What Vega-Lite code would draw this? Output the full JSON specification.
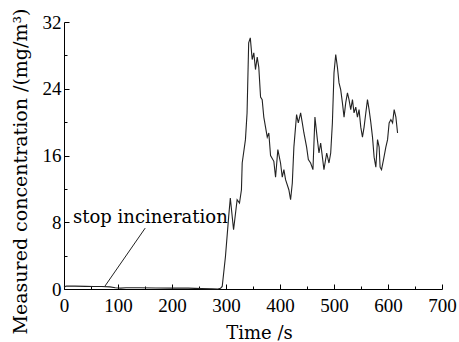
{
  "$schema": "https://vega.github.io/schema/vega-lite/v6.json",
  "width": 378,
  "height": 267,
  "autosize": {"type": "none"},
  "padding": {"left": 64, "top": 22, "right": 17, "bottom": 53},
  "background": "white",
  "config": {
    "view": {"stroke": null},
    "axis": {
      "domainColor": "black",
      "domainWidth": 1,
      "tickColor": "black",
      "tickWidth": 1,
      "labelColor": "black",
      "labelFont": "Liberation Serif",
      "labelFontSize": 19,
      "titleFont": "DejaVu Serif",
      "titleFontWeight": "normal",
      "titleColor": "black",
      "grid": false
    }
  },
  "datasets": {
    "series": [
      {"t": 0, "v": 0.2}, {"t": 4, "v": 0.35}, {"t": 20, "v": 0.35}, {"t": 40, "v": 0.32},
      {"t": 55, "v": 0.3}, {"t": 70, "v": 0.3}, {"t": 85, "v": 0.25}, {"t": 95, "v": 0.15},
      {"t": 105, "v": 0.1}, {"t": 115, "v": 0.15}, {"t": 140, "v": 0.15}, {"t": 170, "v": 0.12},
      {"t": 200, "v": 0.1}, {"t": 230, "v": 0.1}, {"t": 255, "v": 0.05}, {"t": 275, "v": 0.02},
      {"t": 285, "v": 0.0}, {"t": 290, "v": 0.1}, {"t": 293, "v": 0.3}, {"t": 299, "v": 3.9},
      {"t": 305, "v": 8.7}, {"t": 308, "v": 10.9}, {"t": 314, "v": 7.1}, {"t": 320.6, "v": 10.7},
      {"t": 325, "v": 10.3}, {"t": 328.6, "v": 11.9}, {"t": 330, "v": 15.1}, {"t": 336, "v": 17.9},
      {"t": 339, "v": 21.1}, {"t": 342, "v": 29.5}, {"t": 345, "v": 30.1}, {"t": 348.5, "v": 27.5},
      {"t": 351.5, "v": 28.3}, {"t": 354.6, "v": 26.3}, {"t": 357.8, "v": 27.8}, {"t": 360.7, "v": 26.6},
      {"t": 364, "v": 23}, {"t": 367, "v": 22.7}, {"t": 370, "v": 20.6}, {"t": 376.4, "v": 18.2},
      {"t": 379.3, "v": 18.7}, {"t": 382.5, "v": 16}, {"t": 388.6, "v": 15.3}, {"t": 391.8, "v": 13.4},
      {"t": 396, "v": 16.7}, {"t": 401, "v": 15.1}, {"t": 404.2, "v": 13.4}, {"t": 407.2, "v": 14.3},
      {"t": 410.3, "v": 13.1}, {"t": 416.4, "v": 11.9}, {"t": 419.6, "v": 10.7}, {"t": 422.8, "v": 12.7},
      {"t": 425.7, "v": 17}, {"t": 430.7, "v": 20.9}, {"t": 433.9, "v": 19.9}, {"t": 438.2, "v": 21.1},
      {"t": 441.3, "v": 19.9}, {"t": 444.3, "v": 18.7}, {"t": 449.3, "v": 17}, {"t": 452.5, "v": 15.5},
      {"t": 456.7, "v": 15.1}, {"t": 461, "v": 14.3}, {"t": 464.7, "v": 20.6}, {"t": 469.2, "v": 17.9},
      {"t": 472.2, "v": 16.3}, {"t": 475.3, "v": 17.5}, {"t": 481.4, "v": 14.3}, {"t": 486.5, "v": 16.3},
      {"t": 490.7, "v": 15.1}, {"t": 493.9, "v": 16.3}, {"t": 497, "v": 19.9}, {"t": 500, "v": 25.9},
      {"t": 503.2, "v": 28.1}, {"t": 506.3, "v": 26.6}, {"t": 509.3, "v": 24.7}, {"t": 512.4, "v": 23.9},
      {"t": 515.6, "v": 22.3}, {"t": 518.6, "v": 20.6}, {"t": 521.7, "v": 22.3}, {"t": 524.9, "v": 23.5},
      {"t": 527.8, "v": 22.7}, {"t": 531, "v": 21.5}, {"t": 534.2, "v": 22.7}, {"t": 537.1, "v": 21.1},
      {"t": 540.3, "v": 21.8}, {"t": 543.4, "v": 20.6}, {"t": 546.4, "v": 21.5}, {"t": 549.6, "v": 19.4},
      {"t": 552.7, "v": 18.2}, {"t": 555.7, "v": 19.4}, {"t": 558.9, "v": 21.1}, {"t": 562, "v": 22.7},
      {"t": 565, "v": 21.5}, {"t": 568.1, "v": 20}, {"t": 571.3, "v": 18.2}, {"t": 574.3, "v": 15.8},
      {"t": 577.5, "v": 14.6}, {"t": 580.6, "v": 17.9}, {"t": 583.6, "v": 17}, {"t": 585.4, "v": 14.6},
      {"t": 588, "v": 14.3}, {"t": 591.7, "v": 15.5}, {"t": 596, "v": 17}, {"t": 599.2, "v": 17.9},
      {"t": 602.1, "v": 19.9}, {"t": 605.3, "v": 20.3}, {"t": 608.5, "v": 19.9}, {"t": 611.4, "v": 21.5},
      {"t": 614.6, "v": 20.6}, {"t": 617.7, "v": 18.7}
    ],
    "note": [
      {"label": "stop incineration", "t": 16.7, "v": 7.9, "t1": 76, "v1": 0.36, "t2": 150.4, "v2": 7.3}
    ]
  },
  "resolve": {"axis": {"x": "independent", "y": "independent"}},
  "layer": [
    {
      "data": {"name": "series"},
      "mark": {"type": "line", "color": "#222222", "strokeWidth": 1.1, "interpolate": "linear"},
      "encoding": {
        "x": {
          "field": "t", "type": "quantitative",
          "scale": {"domain": [0, 700], "nice": false, "zero": false},
          "axis": {
            "orient": "bottom",
            "values": [0, 100, 200, 300, 400, 500, 600, 700],
            "tickSize": -5,
            "labelPadding": 12,
            "labelFlush": false,
            "labelOverlap": false,
            "title": "Time /s",
            "titleFontSize": 18,
            "titleBaseline": "alphabetic",
            "titleX": 195,
            "titleY": 49
          }
        },
        "y": {
          "field": "v", "type": "quantitative",
          "scale": {"domain": [0, 32], "nice": false, "zero": false},
          "axis": {
            "orient": "left",
            "values": [0, 8, 16, 24, 32],
            "tickSize": -5,
            "labelPadding": 8,
            "labelFlush": false,
            "labelOverlap": false,
            "title": "Measured concentration /(mg/m³)",
            "titleFontSize": 19,
            "titleBaseline": "middle",
            "titleX": -44,
            "titleY": 149
          }
        }
      }
    },
    {
      "data": {"name": "series"},
      "mark": {"type": "line", "opacity": 0},
      "encoding": {
        "x": {
          "field": "t", "type": "quantitative",
          "scale": {"domain": [0, 700], "nice": false, "zero": false},
          "axis": {
            "orient": "bottom",
            "values": [50, 150, 250, 350, 450, 550, 650],
            "tickSize": -3,
            "labels": false,
            "domain": false,
            "title": null
          }
        },
        "y": {
          "field": "v", "type": "quantitative",
          "scale": {"domain": [0, 32], "nice": false, "zero": false},
          "axis": {
            "orient": "left",
            "values": [4, 12, 20, 28],
            "tickSize": -3,
            "labels": false,
            "domain": false,
            "title": null
          }
        }
      }
    },
    {
      "data": {"name": "note"},
      "mark": {"type": "text", "align": "left", "baseline": "alphabetic", "font": "DejaVu Serif", "fontSize": 18, "color": "black"},
      "encoding": {
        "x": {"field": "t", "type": "quantitative", "axis": null},
        "y": {"field": "v", "type": "quantitative", "axis": null},
        "text": {"field": "label"}
      }
    },
    {
      "data": {"name": "note"},
      "mark": {"type": "rule", "color": "#222222", "strokeWidth": 1},
      "encoding": {
        "x": {"field": "t1", "type": "quantitative", "axis": null},
        "y": {"field": "v1", "type": "quantitative", "axis": null},
        "x2": {"field": "t2"},
        "y2": {"field": "v2"}
      }
    }
  ]
}
